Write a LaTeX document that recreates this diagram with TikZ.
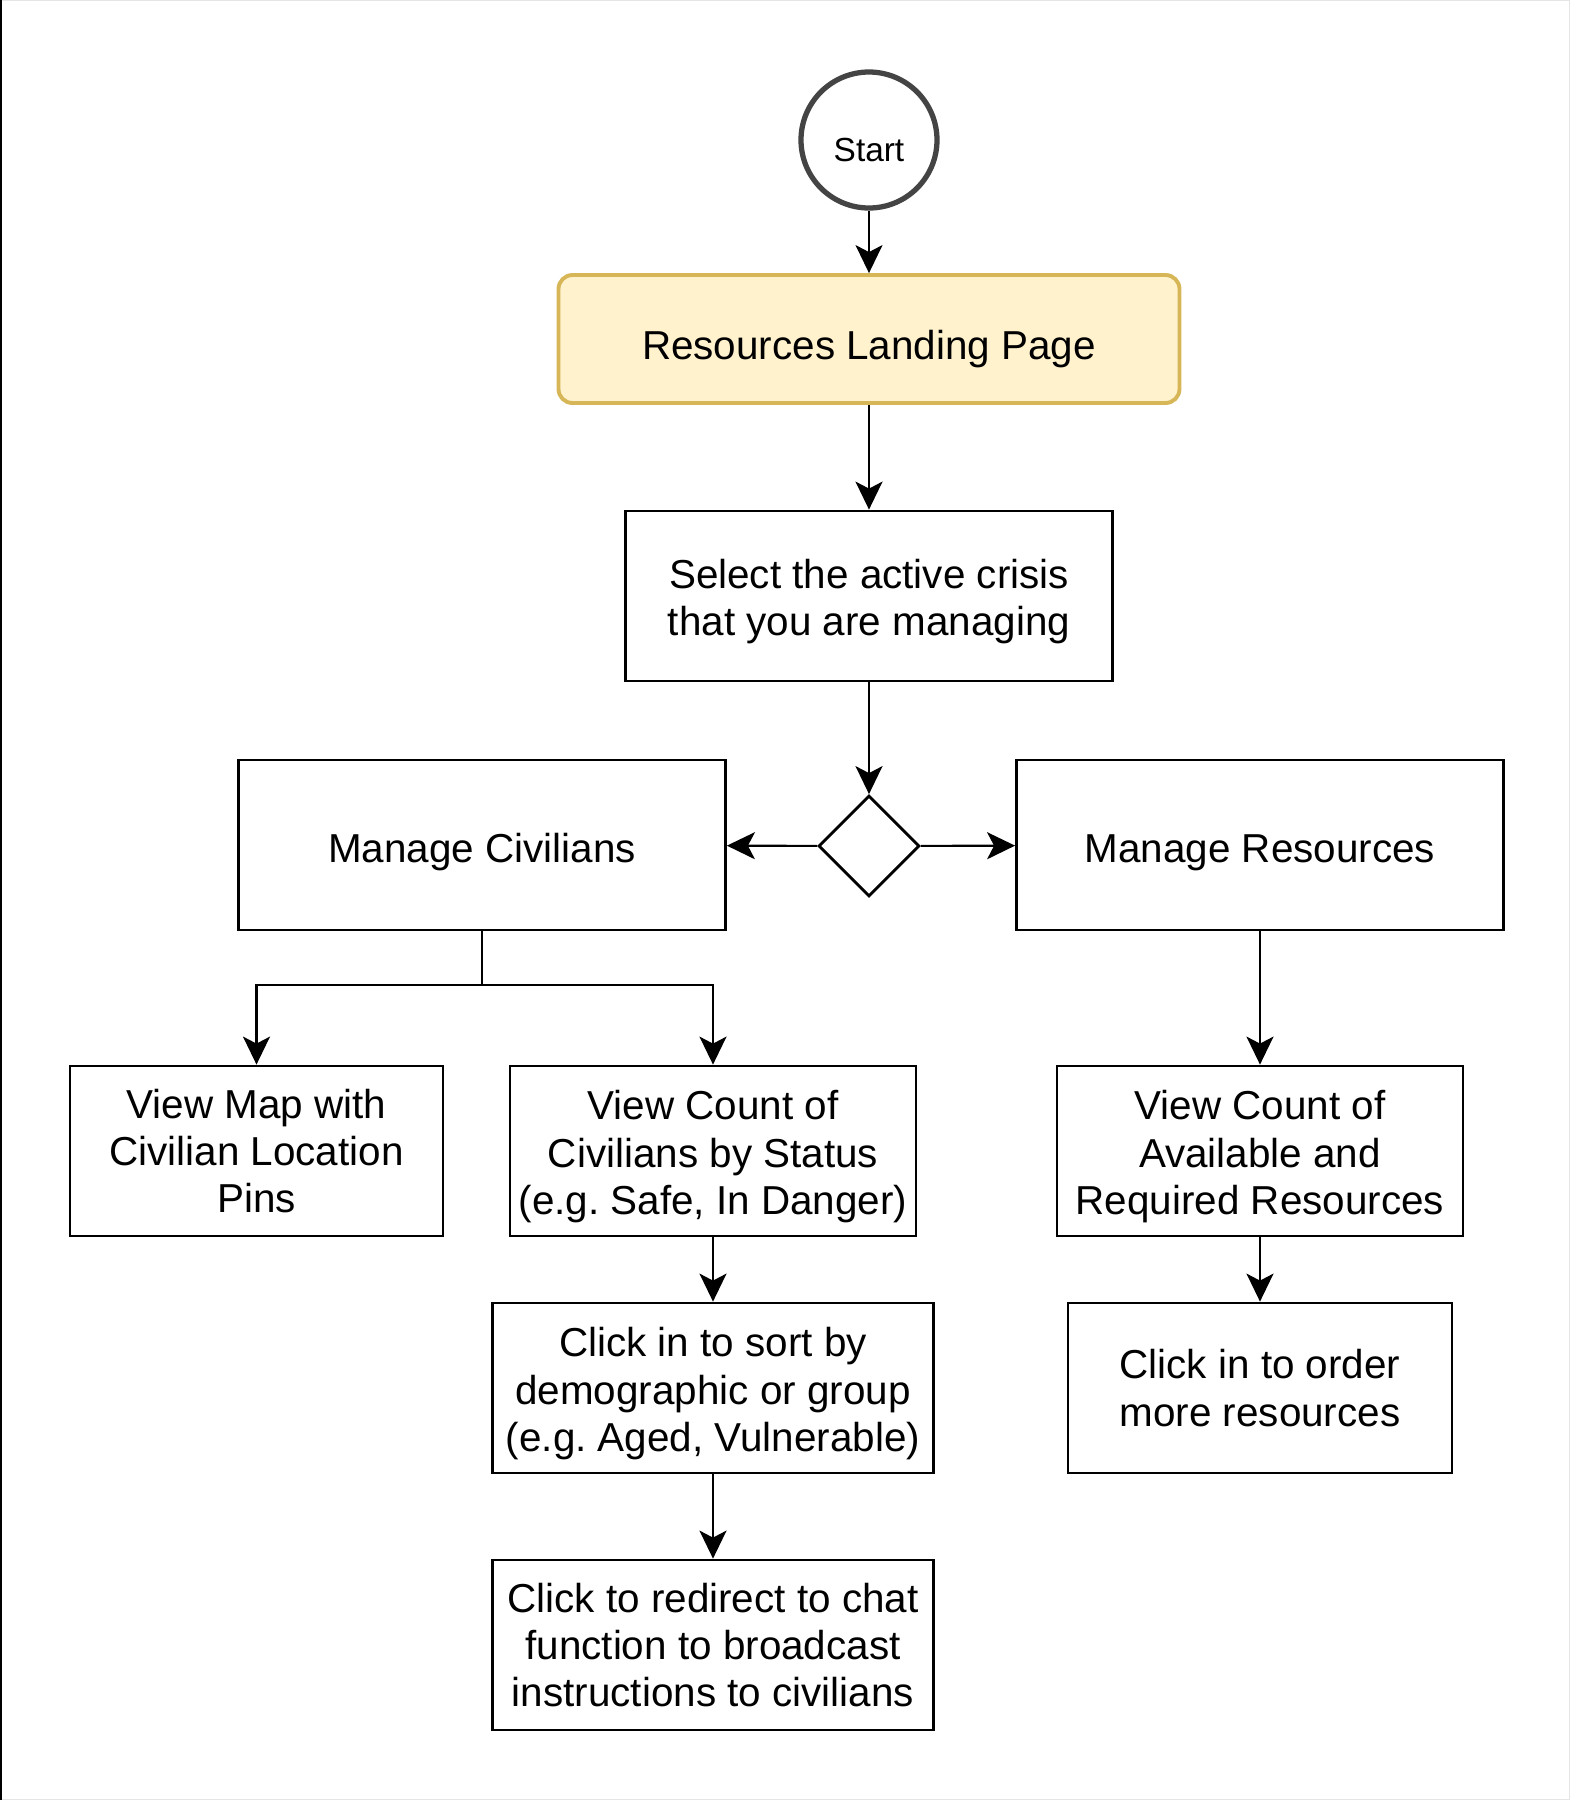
\documentclass[tikz,border=0pt]{standalone}
\usepackage{fontspec}
\setmainfont{Liberation Sans}
\frenchspacing
\usepackage{tikz}
\usetikzlibrary{shapes.geometric, arrows.meta, positioning}
\definecolor{landfill}{HTML}{FFF2CC}
\definecolor{landline}{HTML}{D6B656}
\definecolor{startline}{HTML}{444444}
\newcommand{\boxstrut}{\rule{0pt}{11.5pt}}

\begin{document}
\begin{tikzpicture}[
  startnode/.style={circle, draw=startline, line width=1.5pt, fill=white,
                    minimum size=1.36cm, inner sep=0pt,
                    text height=12.1pt, text depth=0pt,
                    font=\fontsize{9.5}{11}\selectfont},
  landing/.style={draw=landline, fill=landfill, line width=1.1pt,
                  rounded corners=0.14cm, minimum width=6.21cm,
                  minimum height=1.28cm, text height=12pt, text depth=0.4pt,
                  font=\fontsize{11.5}{13.5}\selectfont},
  procbox/.style={draw=black, fill=white, line width=0.8pt,
                  minimum height=1.7cm, inner sep=1pt, align=center,
                  font=\fontsize{11.5}{13.5}\selectfont},
  oneline/.style={text height=11pt, text depth=1.1pt},
  decision/.style={diamond, draw=black, fill=white, line width=0.8pt,
                   minimum width=1.01cm, minimum height=1.01cm, inner sep=0pt},
  arrow/.style={-{Stealth[length=0.28cm, width=0.27cm, inset=0.07cm]},
                line width=0.6pt, color=black}
]
\useasboundingbox (0,0) rectangle (15.7,-18);
\draw[gray!20, line width=0.6pt] (15.7,0) -- (0,0) (0,-18) -- (15.7,-18) -- (15.7,0);
\draw[black, line width=1pt] (0,0) -- (0,-18);

% Top of the flow
\node[startnode] (start) at (8.69,-1.40) {Start};
\node[landing] (land) at (8.69,-3.39) {Resources Landing Page};
\node[procbox, minimum width=4.87cm] (crisis) at (8.69,-5.96)
  {\boxstrut Select the active crisis\\that you are managing};
\node[decision] (choice) at (8.69,-8.46) {};

% Two branches
\node[procbox, oneline, minimum width=4.87cm] (civ) at (4.82,-8.45) {Manage Civilians};
\node[procbox, oneline, minimum width=4.87cm] (res) at (12.60,-8.45) {Manage Resources};

% Civilians side
\node[procbox, minimum width=3.73cm] (map) at (2.565,-11.51)
  {View Map with\\Civilian Location\\Pins};
\node[procbox, minimum width=4.06cm] (count) at (7.13,-11.51)
  {\boxstrut View Count of\\Civilians by Status\\(e.g. Safe, In Danger)};
\node[procbox, minimum width=4.41cm] (sort) at (7.13,-13.88)
  {\boxstrut Click in to sort by\\demographic or group\\(e.g. Aged, Vulnerable)};
\node[procbox, minimum width=4.41cm] (chat) at (7.13,-16.45)
  {Click to redirect to chat\\function to broadcast\\instructions to civilians};

% Resources side
\node[procbox, minimum width=4.06cm] (avail) at (12.60,-11.51)
  {\boxstrut View Count of\\Available and\\Required Resources};
\node[procbox, minimum width=3.84cm] (order) at (12.60,-13.88)
  {Click in to order\\more resources};

\coordinate (split) at (4.82,-9.85);

% Connectors
\draw[arrow] (start) -- (land);
\draw[arrow] (land) -- (crisis);
\draw[arrow] (crisis) -- (choice);
\draw[arrow] (choice) -- (civ);
\draw[arrow] (choice) -- (res);
\draw[line width=0.6pt] (civ) -- (split);
\draw[arrow] (split) -| (map.north);
\draw[arrow] (split) -| (count.north);
\draw[arrow] (count) -- (sort);
\draw[arrow] (sort) -- (chat);
\draw[arrow] (res) -- (avail);
\draw[arrow] (avail) -- (order);

\end{tikzpicture}
\end{document}
